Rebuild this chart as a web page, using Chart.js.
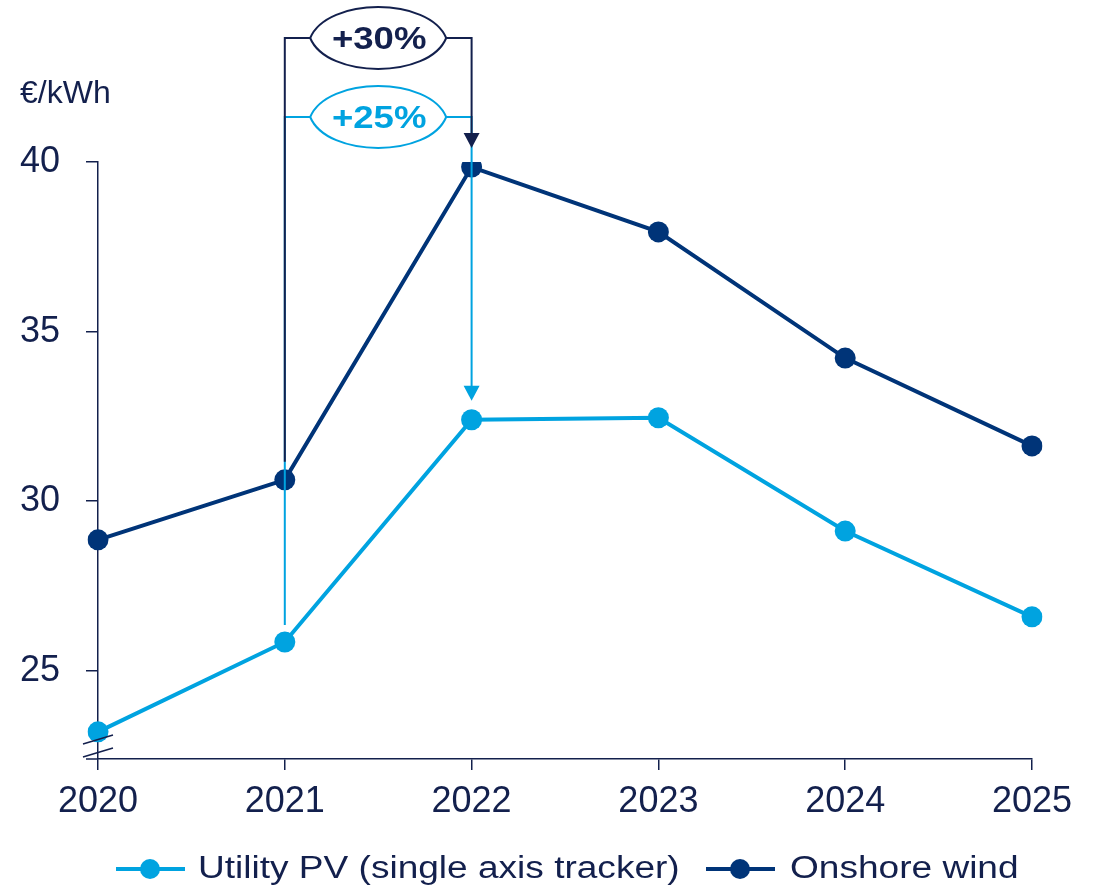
<!DOCTYPE html>
<html>
<head>
<meta charset="utf-8">
<script src="https://cdn.jsdelivr.net/npm/chart.js@4.4.1/dist/chart.umd.min.js"></script>
<style>
    body { margin: 0; background: #fff; overflow: hidden; }
    #wrap { position: relative; width: 1101px; height: 890px; }
    #costChart { position: absolute; left: 0; top: 0; }
    .legend-item { position: absolute; top: 845px; height: 48px; }
    .legend-line { position: absolute; top: 22px; width: 69px; height: 4px; }
    .legend-dot { position: absolute; top: 14px; width: 20px; height: 20px; border-radius: 50%; }
    .legend-text {
        position: absolute; top: 5px; white-space: nowrap;
        font-family: "Liberation Sans", Arial, sans-serif; font-size: 31px; line-height: 36px;
        color: #13204d; transform: scaleX(1.195); transform-origin: left center;
    }
</style>
</head>
<body>
<div id="wrap">
    <canvas id="costChart" width="1101" height="890"></canvas>
    <div class="legend-item" style="left:116px">
        <div class="legend-line" style="left:0; background:#00a3e0"></div>
        <div class="legend-dot" style="left:24px; background:#00a3e0"></div>
        <div class="legend-text" style="left:82px">Utility PV (single axis tracker)</div>
    </div>
    <div class="legend-item" style="left:706px">
        <div class="legend-line" style="left:0; background:#003478"></div>
        <div class="legend-dot" style="left:24px; background:#003478"></div>
        <div class="legend-text" style="left:84px">Onshore wind</div>
    </div>
</div>
<script>
// Data
const years = ['2020', '2021', '2022', '2023', '2024', '2025'];
const pvCost = [23.2, 25.85, 32.4, 32.46, 29.12, 26.59];
const windCost = [28.86, 30.63, 39.85, 37.94, 34.22, 31.63];
const yTicks = [25, 30, 35, 40];
const pvChange = '+25%';
const windChange = '+30%';
const unitLabel = '€/kWh';

const PV_COLOR = '#00a3e0';
const WIND_COLOR = '#003478';
const INK = '#13204d';
const FONT = '"Liberation Sans", Arial, sans-serif';

// Rounded "lens" badge with the percentage inside
function drawBadge(ctx, cx, cy, rx, ry, text, color) {
    ctx.save();
    ctx.beginPath();
    ctx.moveTo(cx - rx, cy);
    ctx.bezierCurveTo(cx - rx * 0.75, cy - ry * 1.33, cx + rx * 0.75, cy - ry * 1.33, cx + rx, cy);
    ctx.bezierCurveTo(cx + rx * 0.75, cy + ry * 1.33, cx - rx * 0.75, cy + ry * 1.33, cx - rx, cy);
    ctx.closePath();
    ctx.fillStyle = '#fff';
    ctx.fill();
    ctx.lineWidth = 2;
    ctx.strokeStyle = color;
    ctx.stroke();
    ctx.translate(cx + 1, cy + 2);
    ctx.scale(1.18, 1);
    ctx.fillStyle = color;
    ctx.font = 'bold 31px ' + FONT;
    ctx.textAlign = 'center';
    ctx.textBaseline = 'middle';
    ctx.fillText(text, 0, 0);
    ctx.restore();
}

// Bracket from one year up, across and down with an arrow onto the next year
function drawBracket(ctx, x1, x2, yTop, yStart, yTip, color, text) {
    ctx.save();
    ctx.strokeStyle = color;
    ctx.fillStyle = color;
    ctx.lineWidth = 2;
    ctx.beginPath();
    ctx.moveTo(x1, yStart);
    ctx.lineTo(x1, yTop);
    ctx.lineTo(x2, yTop);
    ctx.lineTo(x2, yTip - 14);
    ctx.stroke();
    ctx.beginPath();
    ctx.moveTo(x2 - 8, yTip - 15);
    ctx.lineTo(x2 + 8, yTip - 15);
    ctx.lineTo(x2, yTip);
    ctx.closePath();
    ctx.fill();
    ctx.restore();
    drawBadge(ctx, (x1 + x2) / 2, yTop, 68, 31, text, color);
}

const annotationPlugin = {
    id: 'annotations',
    afterDatasetsDraw(chart) {
        const ctx = chart.ctx;
        const x = chart.scales.x;
        const y = chart.scales.y;
        const x21 = x.getPixelForValue(1);
        const x22 = x.getPixelForValue(2);

        drawBracket(ctx, x21, x22, 117, y.getPixelForValue(pvCost[1]) - 17,
            y.getPixelForValue(pvCost[2]) - 19, PV_COLOR, pvChange);
        drawBracket(ctx, x21, x22, 38, y.getPixelForValue(windCost[1]) - 18,
            y.getPixelForValue(windCost[2]) - 19, INK, windChange);

        const area = chart.chartArea;
        ctx.save();
        ctx.strokeStyle = INK;
        ctx.lineWidth = 1.5;
        // axis break marks
        ctx.beginPath();
        ctx.moveTo(area.left - 15, area.bottom - 15);
        ctx.lineTo(area.left + 15, area.bottom - 24);
        ctx.moveTo(area.left - 15, area.bottom - 2);
        ctx.lineTo(area.left + 15, area.bottom - 11);
        // x axis stub left of the y axis
        ctx.moveTo(area.left - 12, area.bottom);
        ctx.lineTo(area.left, area.bottom);
        ctx.stroke();

        // unit label
        ctx.fillStyle = INK;
        ctx.font = '32px ' + FONT;
        ctx.textAlign = 'left';
        ctx.textBaseline = 'alphabetic';
        ctx.fillText(unitLabel, 20, 103);
        ctx.restore();
    }
};

new Chart(document.getElementById('costChart'), {
    type: 'line',
    data: {
        labels: years,
        datasets: [{
            label: 'Utility PV (single axis tracker)',
            data: pvCost,
            borderColor: PV_COLOR,
            backgroundColor: PV_COLOR,
            borderWidth: 4,
            pointRadius: 10.5,
            pointBorderWidth: 0,
            tension: 0
        }, {
            label: 'Onshore wind',
            data: windCost,
            borderColor: WIND_COLOR,
            backgroundColor: WIND_COLOR,
            borderWidth: 4,
            pointRadius: 10.5,
            pointBorderWidth: 0,
            tension: 0
        }]
    },
    options: {
        responsive: false,
        animation: false,
        devicePixelRatio: 1,
        layout: { padding: { top: 162, right: 69, bottom: 0, left: 0 } },
        plugins: {
            legend: { display: false },
            tooltip: { enabled: false }
        },
        scales: {
            x: {
                type: 'category',
                offset: false,
                grid: { drawOnChartArea: false, drawTicks: true, tickLength: 11, color: INK, lineWidth: 1.5 },
                border: { display: true, color: INK, width: 1.5 },
                ticks: { color: INK, font: { family: FONT, size: 36 }, padding: 10, maxRotation: 0 },
                afterFit(scale) { scale.height = 131; }
            },
            y: {
                min: 22.4,
                max: 40,
                grid: { drawOnChartArea: false, drawTicks: true, tickLength: 12, color: INK, lineWidth: 1.5 },
                border: { display: true, color: INK, width: 1.5 },
                ticks: { color: INK, font: { family: FONT, size: 36 }, padding: 26 },
                afterBuildTicks(scale) { scale.ticks = yTicks.map(v => ({ value: v })); },
                afterFit(scale) { scale.width = 98; }
            }
        }
    },
    plugins: [annotationPlugin]
});
</script>
</body>
</html>
